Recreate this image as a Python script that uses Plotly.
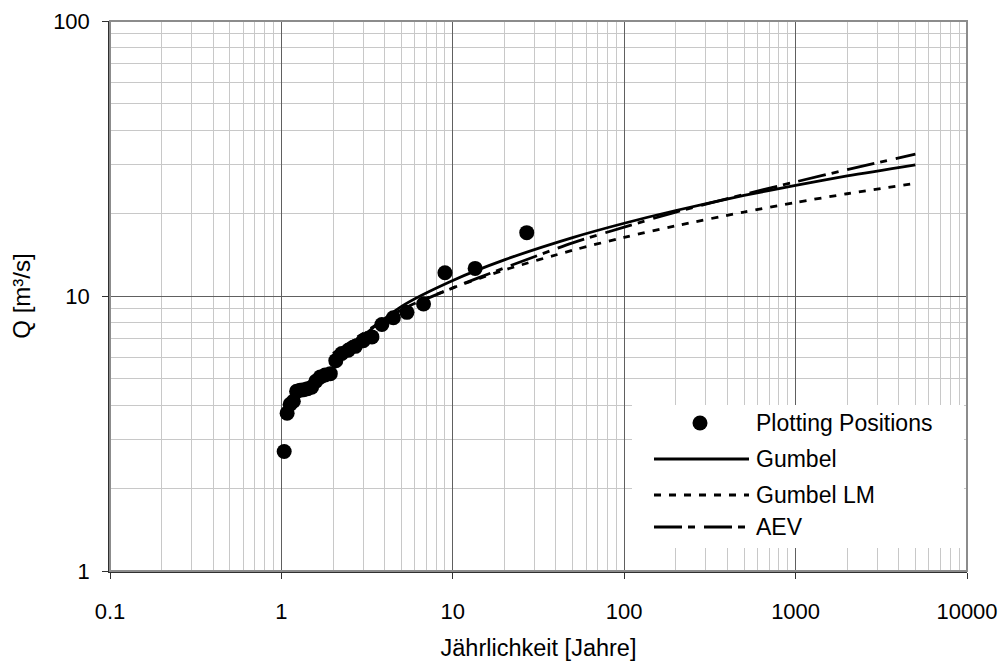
import plotly.graph_objects as go

# ---------------- data ----------------
T_pp = [27.0, 13.5, 9.0, 6.75, 5.4, 4.5, 3.857, 3.375, 3.0, 2.7, 2.455, 2.25, 2.077,
        1.929, 1.8, 1.688, 1.588, 1.5, 1.421, 1.35, 1.286, 1.227, 1.174, 1.125, 1.08, 1.038]
Q_pp = [17.0, 12.6, 12.15, 9.35, 8.72, 8.33, 7.88, 7.1, 6.88, 6.56, 6.35, 6.18, 5.82,
        5.22, 5.16, 5.08, 4.9, 4.66, 4.6, 4.56, 4.54, 4.5, 4.14, 4.04, 3.75, 2.72]

T_fit = [2, 5, 10, 20, 50, 100, 200, 500, 1000, 2000, 5000]
Q_gumbel = [5.8, 9.15, 11.39, 13.53, 16.31, 18.39, 20.46, 23.2, 25.26, 27.33, 30.0]
Q_gumbel_lm = [6.18, 8.9, 10.7, 12.43, 14.66, 16.34, 18.0, 20.2, 21.88, 23.54, 25.7]
Q_aev = [6.1, 8.85, 10.7, 12.65, 15.6, 17.8, 20.2, 23.4, 26.0, 28.8, 32.8]

x_tickvals = [0.1, 1, 10, 100, 1000, 10000]
x_ticktext = ["0.1", "1", "10", "100", "1000", "10000"]
y_tickvals = [1, 10, 100]
y_ticktext = ["1", "10", "100"]

series_names = ["Plotting Positions", "Gumbel", "Gumbel LM", "AEV"]

# ---------------- styling ----------------
FONT = "Liberation Sans, Arial, sans-serif"
W, H = 1003, 661
L, R, T, B = 110, 36, 21, 90
PW, PH = W - L - R, H - T - B

DASH_LM = "7px,8px"
DASH_AEV = "28px,6px,7px,9px"
LW = 2.8


def px(x):
    return (x - L) / PW


def py(y):
    return (H - B - y) / PH


fig = go.Figure()

fig.add_trace(go.Scatter(x=T_fit, y=Q_gumbel, mode="lines", name=series_names[1],
                         line=dict(color="black", width=LW, shape="spline", smoothing=0.8)))
fig.add_trace(go.Scatter(x=T_fit, y=Q_gumbel_lm, mode="lines", name=series_names[2],
                         line=dict(color="black", width=LW, dash=DASH_LM, shape="spline", smoothing=0.8)))
fig.add_trace(go.Scatter(x=T_fit, y=Q_aev, mode="lines", name=series_names[3],
                         line=dict(color="black", width=LW, dash=DASH_AEV, shape="spline", smoothing=0.8)))
fig.add_trace(go.Scatter(x=T_pp, y=Q_pp, mode="markers", name=series_names[0],
                         marker=dict(color="black", size=15, line=dict(width=0))))

axis_common = dict(
    type="log",
    showgrid=True,
    gridcolor="#606060",
    gridwidth=1,
    showline=True,
    linecolor="#303030",
    linewidth=1.5,
    ticks="outside",
    ticklen=6,
    tickcolor="#303030",
    tickfont=dict(family=FONT, size=22, color="black"),
    zeroline=False,
    minor=dict(dtick="D1", showgrid=True, gridcolor="#c8c8c8", gridwidth=1, ticks=""),
    automargin=False,
)

fig.update_layout(
    width=W, height=H,
    margin=dict(l=L, r=R, t=T, b=B),
    paper_bgcolor="white",
    plot_bgcolor="white",
    showlegend=False,
    font=dict(family=FONT, size=22, color="black"),
    xaxis=dict(axis_common,
               range=[-1, 4],
               tickvals=x_tickvals, ticktext=x_ticktext,
               ticklabelstandoff=14,
               title=dict(text="Jährlichkeit [Jahre]", font=dict(family=FONT, size=23.5),
                          standoff=16)),
    yaxis=dict(axis_common,
               range=[0, 2],
               tickvals=y_tickvals, ticktext=y_ticktext,
               ticklabelstandoff=8,
               title=dict(text="Q [m³/s]", font=dict(family=FONT, size=24),
                          standoff=16)),
)

shapes = []
# plot area border (top / right)
shapes.append(dict(type="rect", xref="paper", yref="paper", x0=0, x1=1, y0=0, y1=1,
                   line=dict(color="#8c8c8c", width=2), layer="above"))
# legend box
shapes.append(dict(type="rect", xref="paper", yref="paper",
                   x0=px(632), x1=px(964), y0=py(548), y1=py(405),
                   fillcolor="white", line=dict(width=0), layer="above"))
# legend samples
rows_y = [423, 459, 495, 527]
shapes.append(dict(type="circle", xref="paper", yref="paper",
                   x0=px(700 - 7.5), x1=px(700 + 7.5), y0=py(rows_y[0] + 7.5), y1=py(rows_y[0] - 7.5),
                   fillcolor="black", line=dict(width=0), layer="above"))
shapes.append(dict(type="line", xref="paper", yref="paper", x0=px(654), x1=px(749),
                   y0=py(rows_y[1]), y1=py(rows_y[1]),
                   line=dict(color="black", width=LW), layer="above"))
shapes.append(dict(type="line", xref="paper", yref="paper", x0=px(654), x1=px(749),
                   y0=py(rows_y[2]), y1=py(rows_y[2]),
                   line=dict(color="black", width=LW, dash=DASH_LM), layer="above"))
shapes.append(dict(type="line", xref="paper", yref="paper", x0=px(654), x1=px(749),
                   y0=py(rows_y[3]), y1=py(rows_y[3]),
                   line=dict(color="black", width=LW, dash=DASH_AEV), layer="above"))
fig.update_layout(shapes=shapes)

for name, yy in zip(series_names, rows_y):
    fig.add_annotation(xref="paper", yref="paper", x=px(754), y=py(yy),
                       text=name, showarrow=False, xanchor="left", yanchor="middle",
                       font=dict(family=FONT, size=23, color="black"))

fig.write_html("out.html")
